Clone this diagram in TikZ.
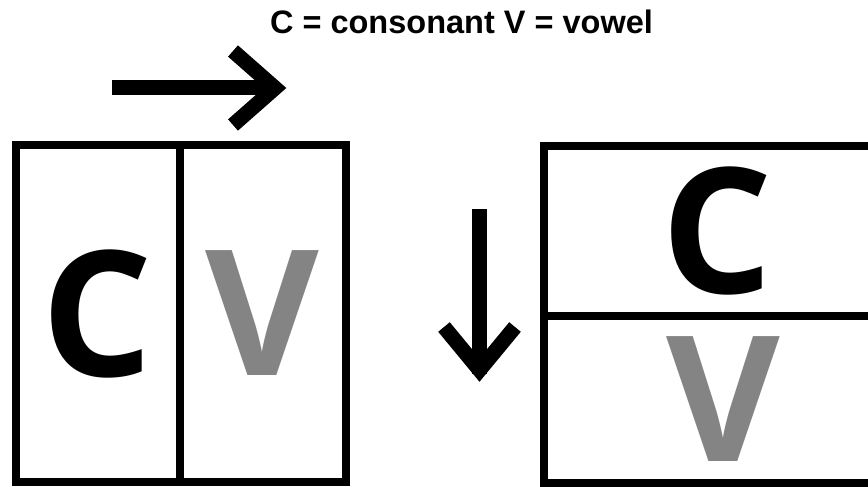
\documentclass[tikz,border=0pt]{standalone}
\usepackage{fontspec}
\setmainfont{Liberation Sans}
\newfontfamily\glyphfont{Open Sans}
\usepackage{tikz}
\usetikzlibrary{positioning}
\colorlet{ccc}{black}
\definecolor{vvv}{HTML}{848484}
\tikzstyle{cell}=[draw,line width=8pt,inner sep=0pt,outer sep=0pt]
\tikzstyle{glyph}=[inner sep=0pt,font=\glyphfont\bfseries\fontsize{175}{175}\selectfont]
\tikzstyle{pointer}=[line width=15pt,miter limit=10]

\begin{document}
\begin{tikzpicture}[x=1pt,y=-1pt]
			\useasboundingbox (0,0) rectangle (868,487);
			\clip (0,0) rectangle (868,487);
			\node[font=\bfseries\fontsize{32.5}{32.5}\selectfont] (title) at (461.5,22) {C = consonant V = vowel};
			% side by side
			\node[cell,minimum width=164.5pt,minimum height=337pt] (leftc) at (97.75,313.5) {};
			\node[cell,minimum width=165.5pt,minimum height=337pt] (leftv) at (262.75,313.5) {};
			\node[glyph,text=ccc] (lc) at (leftc) {C};
			\node[glyph,text=vvv] (lv) at (leftv) {V};
			% stacked
			\node[cell,minimum width=346pt,minimum height=169.5pt] (topc) at (717,230.75) {};
			\node[cell,minimum width=346pt,minimum height=167.5pt] (botv) at (717,399.25) {};
			\node[glyph,text=ccc] (tc) at (topc) {C};
			\node[glyph,text=vvv] (bv) at ([xshift=6pt]botv) {V};
			% reading direction
			\coordinate (rstart) at (112,88);
			\coordinate (rtip) at (275,88);
			\draw[pointer] (rstart) -- ([xshift=-4pt]rtip);
			\draw[pointer] (233,51) -- (rtip) -- (233,125);
			\coordinate (dstart) at (479.5,209);
			\coordinate (dtip) at (479.5,370);
			\draw[pointer] (dstart) -- ([yshift=-4pt]dtip);
			\draw[pointer] (444,327) -- (dtip) -- (515,327);
		\end{tikzpicture}
\end{document}
